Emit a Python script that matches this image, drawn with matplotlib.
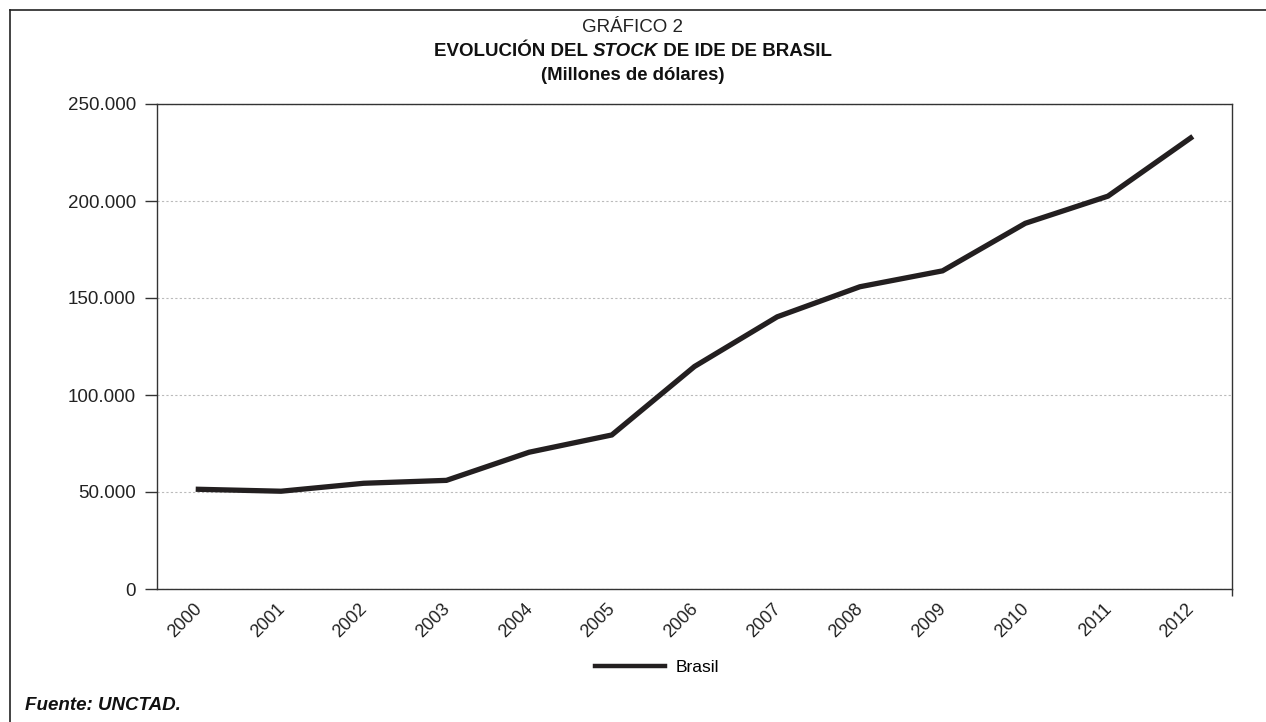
import matplotlib
matplotlib.use("Agg")
import matplotlib.pyplot as plt
import matplotlib.transforms as mtransforms
from matplotlib.lines import Line2D
from matplotlib.ticker import FuncFormatter

plt.rcParams['font.family'] = ['Liberation Sans', 'DejaVu Sans']

years = ['2000', '2001', '2002', '2003', '2004', '2005', '2006',
         '2007', '2008', '2009', '2010', '2011', '2012']
brasil = [51400, 50400, 54500, 56000, 70500, 79400, 114700,
          140300, 155800, 164000, 188500, 202500, 232500]
yticks = [0, 50000, 100000, 150000, 200000, 250000]

ink = '#231f20'

fig = plt.figure(figsize=(12.66, 7.22), dpi=100)
ax = fig.add_axes([157/1266, 133/722, 1075/1266, 485/722])

x = list(range(len(years)))
ax.plot(x, brasil, color=ink, lw=3.8, solid_joinstyle='miter', label='Brasil')

ax.set_xlim(-0.5, len(years) - 0.5)
ax.set_ylim(0, 250000)
ax.set_yticks(yticks)
ax.yaxis.set_major_formatter(FuncFormatter(lambda v, p: f"{int(v):,}".replace(',', '.')))
ax.grid(axis='y', color='#bbbbbb', ls=(0, (2, 2)), lw=0.8)
ax.set_axisbelow(True)

for s in ax.spines.values():
    s.set_color('#333333')
    s.set_linewidth(1.0)

ax.tick_params(axis='y', direction='out', length=9, width=1.0, color='#333333',
               labelsize=13.5, pad=6, labelcolor='#222222')
ax.set_xticks(x)
ax.set_xticklabels(years, rotation=45, ha='right', fontsize=13, color='#222222')
ax.tick_params(axis='x', length=0, pad=8)
# tick at right end of the x-axis
ax.set_xticks([len(years) - 0.5], minor=True)
ax.tick_params(axis='x', which='minor', direction='out', length=5, width=1.0, color='#333333')
shift = mtransforms.ScaledTranslation(7/100, 0, fig.dpi_scale_trans)
for lbl in ax.get_xticklabels():
    lbl.set_transform(lbl.get_transform() + shift)

leg = ax.legend(loc='center', bbox_to_anchor=(657/1266, 1 - 667/722),
                bbox_transform=fig.transFigure, frameon=False, fontsize=12.5,
                handlelength=4.0, handletextpad=0.6)
for h in leg.get_lines():
    h.set_linewidth(3.2)

# outer frame (left and top edges)
fig.add_artist(Line2D([10/1266, 10/1266], [0, 1 - 10/722], transform=fig.transFigure,
                      color='#222222', lw=1.2))
fig.add_artist(Line2D([10/1266, 1], [1 - 10/722, 1 - 10/722], transform=fig.transFigure,
                      color='#222222', lw=1.2))

# titles
cx = 633/1266
fig.text(cx, 1 - 27/722, 'GRÁFICO 2', ha='center', va='center', fontsize=13.5, color='#222222')
y2 = 1 - 51/722
parts = [('EVOLUCIÓN DEL ', 'normal'), ('STOCK', 'italic'), (' DE IDE DE BRASIL', 'normal')]
texts = [fig.text(0, y2, t, ha='left', va='center', fontsize=13.5, fontweight='bold',
                  fontstyle=st, color='#111111') for t, st in parts]
fig.canvas.draw()
r = fig.canvas.get_renderer()
widths = [t.get_window_extent(r).width for t in texts]
xpos = 633 - sum(widths) / 2
for t, w in zip(texts, widths):
    t.set_x(xpos / 1266)
    xpos += w
fig.text(cx, 1 - 75/722, '(Millones de dólares)', ha='center', va='center', fontsize=13.3,
         fontweight='bold', color='#111111')

fig.text(25/1266, 1 - 706/722, 'Fuente: UNCTAD.', ha='left', va='center', fontsize=13.5,
         fontweight='bold', fontstyle='italic', color='#111111')

fig.savefig('out.png', dpi=100)
